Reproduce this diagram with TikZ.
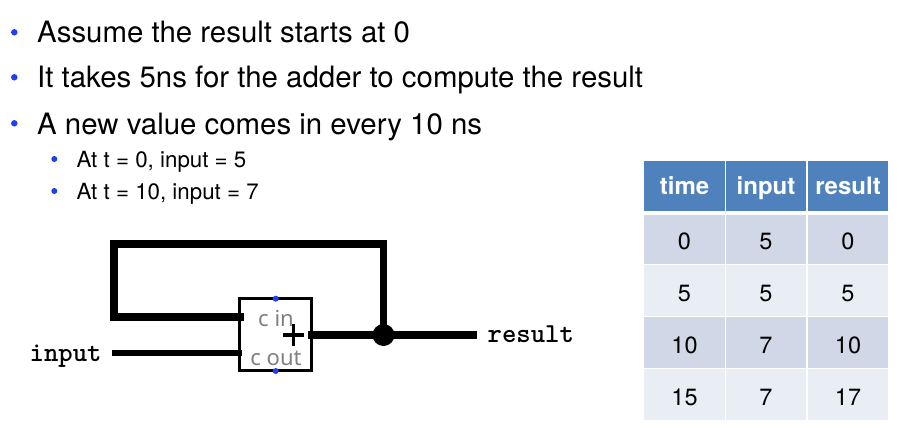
\documentclass[tikz,border=0pt]{standalone}
\usepackage{fontspec}
\setmainfont{TeX Gyre Heros}
\newfontfamily\portfont{Noto Sans}
\definecolor{hdr}{HTML}{4F81BD}
\definecolor{rowa}{HTML}{D0D8E8}
\definecolor{rowb}{HTML}{E9EDF4}
\definecolor{bul}{HTML}{2040F0}
\tikzset{
 big/.style={anchor=base west,inner sep=0pt,font=\fontsize{29.4}{29.4}\selectfont},
 small/.style={anchor=base west,inner sep=0pt,font=\fontsize{22.3}{22.3}\selectfont},
 bulb/.style={circle,fill=bul,inner sep=0pt,minimum size=6.5pt},
 bulc/.style={circle,fill=bul,inner sep=0pt,minimum size=6pt},
 wire/.style={line width=7.5pt},
 wiret/.style={line width=6pt},
 hcell/.style={fill=hdr,text=white,inner sep=0pt,text height=21pt,text depth=5pt,font=\fontsize{24}{24}\selectfont\bfseries},
 cella/.style={fill=rowa,inner sep=0pt,text height=21pt,text depth=0pt,font=\fontsize{23.5}{24}\selectfont},
 cellb/.style={fill=rowb,inner sep=0pt,text height=21pt,text depth=0pt,font=\fontsize{23.5}{24}\selectfont},
 sig/.style={inner sep=0pt,font=\fontsize{27.4}{27.4}\selectfont\ttfamily\bfseries},
 port/.style={inner sep=0pt,text=black!50,font=\fontsize{22}{22}\selectfont\portfont},
}
\begin{document}
\begin{tikzpicture}[x=1pt,y=-1pt]
\useasboundingbox (0,0) rectangle (899,428);
% bullets
\node[bulb] (b1) at (14.3,32.3) {}; \node[big] (t1) at (37,43) {Assume the result starts at 0};
\node[bulb] (b2) at (14.3,77.3) {}; \node[big] (t2) at (37,88) {It takes 5ns for the adder to compute the result};
\node[bulb] (b3) at (14.3,123.3) {}; \node[big] (t3) at (37,134) {A new value comes in every 10 ns};
\node[bulc] (b4) at (54.3,159) {}; \node[small] (t4) at (76.5,167) {At t = 0, input = 5};
\node[bulc] (b5) at (54.3,191) {}; \node[small] (t5) at (76.5,199) {At t = 10, input = 7};
% table
\node[hcell,minimum width=81,minimum height=49.5] (ha) at (684.5,186) {time};
\node[hcell,minimum width=80,minimum height=49.5] (hb) at (766,186) {input};
\node[hcell,minimum width=80,minimum height=49.5] (hc) at (848,186) {result};
\foreach \r/\cy/\h/\st/\x/\y/\z in {1/239.25/49.5/cella/0/5/0,2/290.5/51/cellb/5/5/5,3/342.5/51/cella/10/7/10,4/394.5/51/cellb/15/7/17}{
  \node[\st,minimum width=81,minimum height=\h] (ca\r) at (684.5,\cy) {\x};
  \node[\st,minimum width=80,minimum height=\h] (cb\r) at (766,\cy) {\y};
  \node[\st,minimum width=80,minimum height=\h] (cc\r) at (848,\cy) {\z};
}
% adder
\node[draw,line width=3.4pt,minimum width=71.6,minimum height=71.6,inner sep=0pt] (add) at (275.5,334.5) {};
\node[port] (cin) at (276,318) {c in};
\node[port] (cout) at (276,358) {c out};
\node[bulc] (pt) at (275.7,298.7) {};
\node[bulc] (pb) at (275.7,371) {};
\coordinate (crossc) at (293.5,335);
\draw[line width=3.5pt] ([xshift=-10.5pt]crossc) -- ([xshift=10.5pt]crossc);
\draw[line width=3.5pt] ([yshift=-11pt]crossc) -- ([yshift=11pt]crossc);
% wires
\coordinate (inA) at (243.5,317);
\coordinate (inB) at (242,352.7);
\coordinate (o1) at (308,335);
\coordinate (res) at (477,335);
\coordinate (inl) at (112,352.7);
\node[circle,fill=black,inner sep=0pt,minimum size=22pt] (dot) at (383.5,335) {};
\draw[wire,miter limit=10] (dot.center) -- (383.5,244) -- (114,244) -- (114,317) -- (inA);
\draw[wiret] (inl) -- (inB);
\draw[wire] (o1) -- (res);
\node[sig,anchor=base west] (linput) at (29.5,361) {input};
\node[sig,anchor=base west] (lresult) at (487.5,342) {result};
\end{tikzpicture}
\end{document}
